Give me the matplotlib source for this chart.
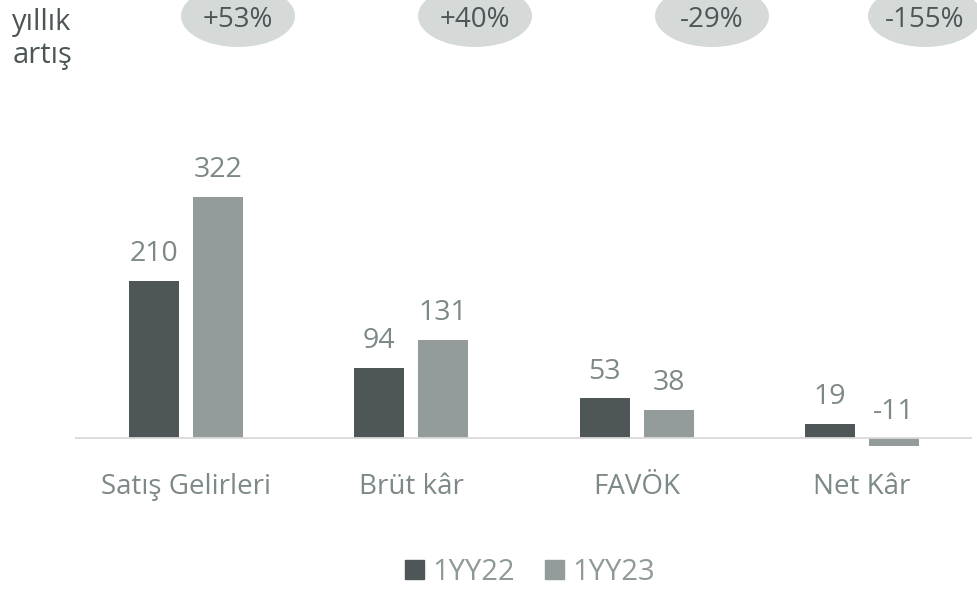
import numpy as np
import matplotlib.pyplot as plt
from matplotlib.patches import Ellipse, Patch

plt.rcParams['font.family'] = ['Open Sans', 'DejaVu Sans']

categories = ['Satış Gelirleri', 'Brüt kâr', 'FAVÖK', 'Net Kâr']
v_22 = [210, 94, 53, 19]
v_23 = [322, 131, 38, -11]
growth = ['+53%', '+40%', '-29%', '-155%']
series = ['1YY22', '1YY23']

c_dark = '#4f5657'
c_light = '#939c9b'
c_text = '#7d8888'

fig = plt.figure(figsize=(9.77, 5.9), dpi=100)
W, H = 977, 590
# main axes: pixel box left 75, right 972, top 150, bottom 460
ax = fig.add_axes([75 / W, (H - 460) / H, 897 / W, 310 / H])
x = np.arange(len(categories))
bw = 0.222
off = 0.142
ax.bar(x - off, v_22, bw, color=c_dark)
ax.bar(x + off, v_23, bw, color=c_light)
ax.set_xlim(-0.493, 3.489)
ax.set_ylim(-29.3, 384)
ax.axhline(0, color='#d9d9d9', lw=1.3)
for s in ax.spines.values():
    s.set_visible(False)
ax.set_yticks([])
ax.set_xticks(x)
ax.set_xticklabels(categories, fontsize=20, color=c_text)
ax.tick_params(axis='x', length=0, pad=9.5)

for xs, vals in [(x - off, v_22), (x + off, v_23)]:
    for xi, v in zip(xs, vals):
        ax.annotate(str(v), (xi, max(v, 0)), xytext=(0, 19), textcoords='offset points',
                    ha='center', va='center', fontsize=20.5, color=c_text)

# overlay for the growth bubbles
ov = fig.add_axes([0, 0, 1, 1])
ov.set_xlim(0, W)
ov.set_ylim(H, 0)
ov.axis('off')
ov.patch.set_alpha(0)
bubble_x = [238, 475, 712, 925]
for bx, g in zip(bubble_x, growth):
    ov.add_patch(Ellipse((bx, 16), 114, 62, color='#d5dad9', lw=0))
    ov.text(bx, 20, g, ha='center', va='center', fontsize=20, color='#4d5656')
ov.text(42, 39, 'yıllık\nartış', ha='center', va='center', fontsize=21,
        color='#4d5656', linespacing=1.2)

handles = [Patch(color=c_dark), Patch(color=c_light)]
fig.legend(handles, series, loc='center', bbox_to_anchor=(530 / W, (H - 572) / H), ncol=2,
           frameon=False, fontsize=21, labelcolor='#8e9a99', handlelength=0.65,
           handleheight=0.65, handletextpad=0.3, columnspacing=1.0)

fig.savefig('out.png', dpi=100)
